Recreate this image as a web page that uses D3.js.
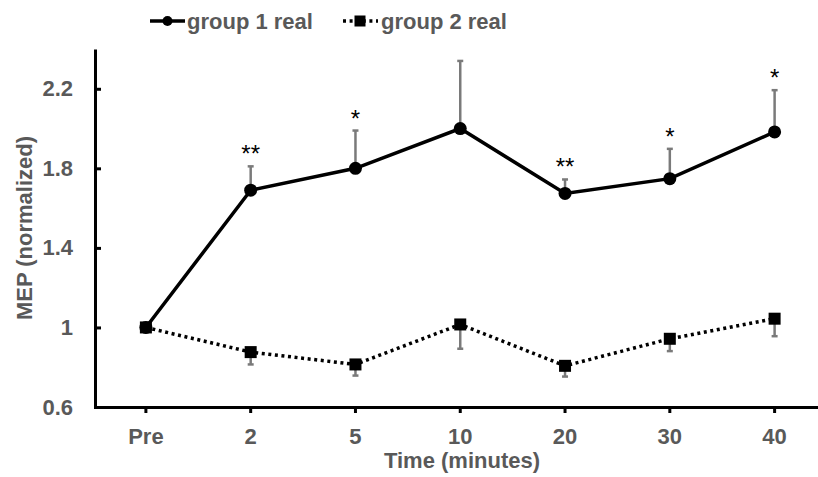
<!DOCTYPE html>
<html>
<head>
<meta charset="utf-8">
<script src="https://cdn.jsdelivr.net/npm/d3@7"></script>
<style>
  body { margin: 0; background: #fff; }
  svg { display: block; font-family: Arial, "Liberation Sans", sans-serif; }
</style>
</head>
<body>
<div id="chart"></div>
<script>
// data ------------------------------------------------------------------------
const times = ['Pre', '2', '5', '10', '20', '30', '40'];
const group1 = [1.0, 1.69, 1.80, 2.0, 1.674, 1.748, 1.983];
const group1Err = [0, 0.12, 0.19, 0.34, 0.07, 0.15, 0.21];   // upward
const group2 = [1.0, 0.876, 0.814, 1.015, 0.807, 0.943, 1.044];
const group2Err = [0, 0.062, 0.056, 0.122, 0.054, 0.062, 0.088]; // downward
const sigMarks = ['', '**', '*', '', '**', '*', '*'];
const yTicks = [0.6, 1, 1.4, 1.8, 2.2];
const seriesNames = ['group 1 real', 'group 2 real'];

// svg -------------------------------------------------------------------------
const width = 818, height = 477;
const textGray = '#595959';
const errGray = '#7a7a7a';

const svg = d3.select('#chart').append('svg')
  .attr('width', width)
  .attr('height', height);

const x = d3.scaleBand()
  .domain(times)
  .range([93.5, 827])
  .padding(0);
const cx = d => x(d) + x.bandwidth() / 2;

const y = d3.scaleLinear()
  .domain([0.6, 2.4])
  .range([407, 49]);

// axes ------------------------------------------------------------------------
const yAxis = svg.append('g')
  .attr('transform', 'translate(95,0)')
  .call(d3.axisLeft(y).tickValues(yTicks).tickFormat(d => d)
    .tickSizeInner(-6).tickSizeOuter(0).tickPadding(22));
yAxis.select('.domain').attr('stroke', '#000').attr('stroke-width', 3);
yAxis.selectAll('.tick line').attr('stroke', '#000').attr('stroke-width', 3);
yAxis.selectAll('.tick text')
  .attr('fill', textGray).attr('font-size', '22px').attr('font-weight', 'bold')
  .attr('font-family', 'Arial, "Liberation Sans", sans-serif');

const xAxis = svg.append('g')
  .attr('transform', 'translate(0,407)')
  .call(d3.axisBottom(x).tickSizeInner(6).tickSizeOuter(0).tickPadding(15));
xAxis.select('.domain').attr('stroke', '#000').attr('stroke-width', 3);
xAxis.selectAll('.tick line').attr('stroke', '#000').attr('stroke-width', 3);
xAxis.selectAll('.tick text')
  .attr('fill', textGray).attr('font-size', '22px').attr('font-weight', 'bold')
  .attr('font-family', 'Arial, "Liberation Sans", sans-serif');

// axis titles
svg.append('text')
  .attr('x', 462).attr('y', 468)
  .attr('text-anchor', 'middle')
  .attr('fill', textGray).attr('font-size', '22px').attr('font-weight', 'bold')
  .text('Time (minutes)');

svg.append('text')
  .attr('transform', 'translate(32,228) rotate(-90)')
  .attr('text-anchor', 'middle')
  .attr('fill', textGray).attr('font-size', '22px').attr('font-weight', 'bold')
  .text('MEP (normalized)');

// error bars -------------------------------------------------------------------
const errG = svg.append('g').attr('stroke', errGray).attr('stroke-width', 2.5);
times.forEach((t, i) => {
  if (group1Err[i] > 0) {
    const top = y(group1[i] + group1Err[i]);
    errG.append('line').attr('x1', cx(t)).attr('x2', cx(t))
      .attr('y1', y(group1[i])).attr('y2', top);
    errG.append('line').attr('x1', cx(t) - 3).attr('x2', cx(t) + 3)
      .attr('y1', top).attr('y2', top);
  }
  if (group2Err[i] > 0) {
    const bot = y(group2[i] - group2Err[i]);
    errG.append('line').attr('x1', cx(t)).attr('x2', cx(t))
      .attr('y1', y(group2[i])).attr('y2', bot);
    errG.append('line').attr('x1', cx(t) - 3).attr('x2', cx(t) + 3)
      .attr('y1', bot).attr('y2', bot);
  }
});

// lines -----------------------------------------------------------------------
const line = d3.line().x((d, i) => cx(times[i])).y(d => y(d));

svg.append('path')
  .datum(group2)
  .attr('d', line)
  .attr('fill', 'none')
  .attr('stroke', '#000')
  .attr('stroke-width', 3.5)
  .attr('stroke-dasharray', '3,3.6');

svg.append('path')
  .datum(group1)
  .attr('d', line)
  .attr('fill', 'none')
  .attr('stroke', '#000')
  .attr('stroke-width', 3.5);

// markers
svg.append('g').selectAll('circle')
  .data(group1)
  .join('circle')
  .attr('cx', (d, i) => cx(times[i]))
  .attr('cy', d => y(d))
  .attr('r', 6.5)
  .attr('fill', '#000');

svg.append('g').selectAll('rect')
  .data(group2)
  .join('rect')
  .attr('x', (d, i) => cx(times[i]) - 6)
  .attr('y', d => y(d) - 6)
  .attr('width', 12)
  .attr('height', 12)
  .attr('fill', '#000');

// significance marks
svg.append('g').selectAll('text')
  .data(sigMarks)
  .join('text')
  .attr('x', (d, i) => cx(times[i]))
  .attr('y', (d, i) => y(group1[i] + group1Err[i]) - 4)
  .attr('text-anchor', 'middle')
  .attr('font-size', '24px')
  .attr('fill', '#000')
  .text(d => d);

// legend ----------------------------------------------------------------------
const legend = svg.append('g').attr('font-size', '22px').attr('font-weight', 'bold');
const lg1 = legend.append('g').attr('transform', 'translate(150,21)');
lg1.append('line').attr('x1', 0).attr('x2', 35).attr('stroke', '#000').attr('stroke-width', 3.5);
lg1.append('circle').attr('cx', 17.5).attr('r', 5).attr('fill', '#000');
lg1.append('text').attr('x', 37).attr('y', 8).attr('fill', textGray).text(seriesNames[0]);

const lg2 = legend.append('g').attr('transform', 'translate(343,21)');
lg2.append('line').attr('x1', 0).attr('x2', 35).attr('stroke', '#000').attr('stroke-width', 3.5)
  .attr('stroke-dasharray', '3,3.6');
lg2.append('rect').attr('x', 11.5).attr('y', -5.5).attr('width', 11).attr('height', 11).attr('fill', '#000');
lg2.append('text').attr('x', 38).attr('y', 8).attr('fill', textGray).text(seriesNames[1]);
</script>
</body>
</html>
